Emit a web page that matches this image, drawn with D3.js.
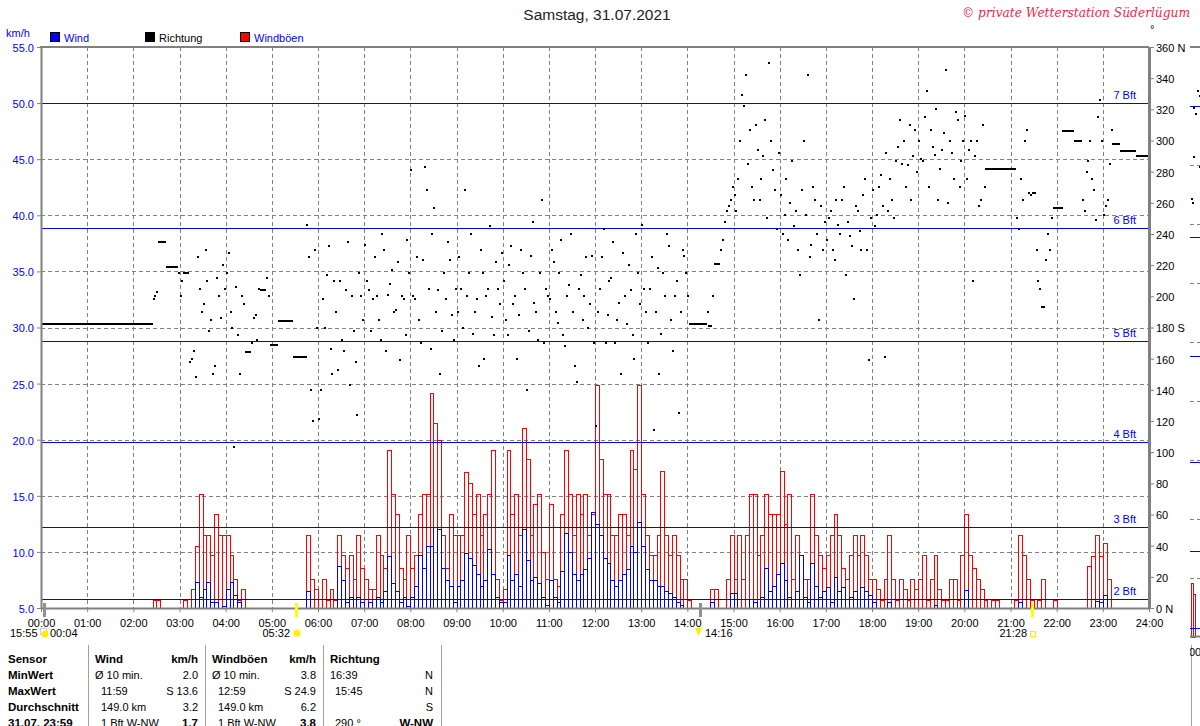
<!DOCTYPE html>
<html>
<head>
<meta charset="utf-8">
<title>Wind 31.07.2021</title>
<script src="https://cdn.jsdelivr.net/npm/d3@7"></script>
<style>
  body { margin: 0; background: #fff; }
  svg text { font-family: "Liberation Sans", Arial, sans-serif; }
</style>
</head>
<body>
<svg id="chart" width="1200" height="726"></svg>
<script>
// 5-minute samples, one row = one hour (12 values), km/h
const gust = [
  0,0,0,0,0,0,0,0,0,0,0,0,                                  // 00
  0,0,0,0,0,0,0,0,0,0,0,0,                                  // 01
  0,0,0,0,0,5.7,5.7,0,0,0,0,0,                              // 02
  0,5.7,0,6.7,10.5,15.2,11.5,11.5,9.7,13.4,11.5,11.5,       // 03
  11.5,9.7,7.6,5.7,6.7,0,0,0,0,0,0,0,                       // 04
  0,0,0,0,0,0,0,0,0,11.5,7.6,6.7,                           // 05
  0,7.6,5.7,6.7,5.7,11.5,9.7,8.6,9.7,7.6,11.5,8.6,          // 06
  7.6,6.7,6.7,11.5,9.7,8.6,19.1,15.2,13.4,8.6,7.6,11.5,     // 07
  8.6,9.7,13.4,15.2,15.2,24.2,21.5,20.0,11.5,8.6,13.4,11.5, // 08
  11.5,11.5,17.1,16.1,13.4,15.2,11.5,13.4,15.2,19.1,7.6,5.7,// 09
  6.7,19.1,13.4,15.2,11.5,21.0,18.3,11.5,14.3,15.2,10.0,7.6,// 10
  14.3,7.6,7.0,13.4,19.1,15.2,11.5,15.2,13.4,15.2,11.5,13.4,// 11
  24.9,18.3,15.2,15.2,11.5,11.5,13.4,13.4,11.5,19.1,17.4,24.9,// 12
  15.2,11.5,9.7,9.7,11.5,17.2,11.5,9.7,11.5,9.7,7.6,7.6,    // 13
  5.7,0,0,0,0,0,6.7,6.7,0,0,7.6,11.5,                       // 14
  7.6,11.5,7.6,11.5,15.2,15.2,9.7,11.5,15.2,13.4,13.4,13.4, // 15
  17.2,12.5,15.2,7.6,11.5,9.7,7.6,7.6,15.2,11.5,9.7,8.6,    // 16
  9.7,11.5,13.4,11.5,8.6,7.6,9.7,11.5,9.7,11.5,9.7,7.6,     // 17
  7.6,6.7,5.7,7.6,11.5,7.6,5.7,7.6,6.7,5.7,7.6,6.7,         // 18
  7.6,9.7,5.7,7.6,9.7,6.7,5.7,5.7,7.6,7.6,5.7,9.7,          // 19
  13.4,9.7,8.6,7.6,6.7,5.7,0,5.7,5.7,0,0,0,                 // 20
  0,5.7,11.5,9.7,7.6,5.7,0,5.7,7.6,0,0,5.7,                 // 21
  0,0,0,0,0,0,0,0,8.7,9.6,11.5,9.6,                         // 22
  10.8,7.6,0,0,0,0,0,0,0,0,0,0                              // 23
];

const wind = [
  0,0,0,0,0,0,0,0,0,0,0,0,
  0,0,0,0,0,0,0,0,0,0,0,0,
  0,0,0,0,0,0,0,0,0,0,0,0,
  0,0,0,0,7.3,6.0,6.7,7.3,5.5,5.5,0,5.2,
  6.7,7.3,6.2,5.5,0,0,0,0,0,0,0,0,
  0,0,0,0,0,0,0,0,0,6.5,0,0,
  0,0,0,0,0,8.7,7.5,5.5,6.0,0,6.0,5.5,
  0,5.5,0,6.0,5.5,6.5,9.6,7.2,6.5,5.5,6.0,5.2,
  6.0,7.0,9.7,8.6,10.5,10.5,12.2,12.0,8.6,7.5,7.0,5.5,
  7.0,7.5,9.9,9.5,8.8,8.0,7.0,7.5,10.3,8.0,6.0,5.5,
  5.5,9.7,7.5,8.0,7.0,12.0,9.3,7.5,7.8,7.2,6.0,5.3,
  7.5,6.0,5.5,8.3,11.7,10.0,8.0,7.5,8.0,8.5,9.5,13.6,
  12.5,11.5,9.5,9.0,7.5,7.0,7.5,8.0,8.5,10.5,10.0,12.7,
  10.5,8.5,7.5,7.5,7.0,7.0,6.5,6.3,6.0,5.5,5.3,5.0,
  0,0,0,0,0,0,5.5,0,0,0,0,6.3,
  6.3,0,0,0,5.8,5.5,0,6.0,8.6,6.5,7.0,8.0,
  9.0,7.5,6.0,0,6.5,9.7,6.0,5.5,9.0,7.0,6.0,6.5,
  6.9,5.5,7.8,6.5,6.9,0,6.0,6.5,0,6.9,6.5,6.2,
  5.5,0,0,0,5.5,0,0,0,0,0,0,0,
  0,0,0,0,5.3,0,0,0,0,0,0,0,
  6.6,0,0,0,0,0,0,0,0,0,0,0,
  0,0,5.5,0,0,0,0,0,0,0,0,0,
  0,0,0,0,0,0,0,0,0,0,5.6,5.5,
  6.2,0,0,0,0,0,0,0,0,0,0,0
];

// wind direction in degrees: dirA at hh:m0 / hh:m5, dirB 2.5 minutes later
const dirA = [
  182,182,182,182,182,182,182,182,182,182,182,182,
  182,182,182,182,182,182,182,182,182,182,182,182,
  182,182,182,182,182,198,203,235,235,219,219,219,
  200,215,215,160,148,205,195,210,185,155,200,220,
  215,190,103,175,200,164,164,186,172,204,204,200,
  169,169,184,184,184,184,161,161,161,246,140,230,
  121,198,214,166,210,153,172,204,143,178,124,200,
  233,204,198,200,172,230,201,217,191,159,198,236,
  281,198,185,223,268,166,257,204,178,198,223,172,
  190,205,268,215,176,198,230,160,205,187,222,195,
  210,175,232,200,188,215,140,226,196,172,262,205,
  198,222,183,236,168,207,190,145,214,200,180,226,
  117,205,243,188,212,170,196,228,182,204,160,215,
  246,190,205,114,218,176,200,232,165,210,190,226,
  200,182,182,182,182,190,181,221,221,236,255,262,
  265,275,329,342,307,262,294,275,313,350,281,243,
  265,252,236,287,255,214,300,342,233,262,185,230,
  236,255,223,246,262,214,239,198,255,230,275,159,
  268,252,278,161,255,262,287,313,300,284,262,307,
  300,287,332,307,291,262,294,345,300,275,313,287,
  316,294,210,300,262,270,282,282,282,282,282,282,
  282,282,243,262,307,265,266,210,193,223,230,257,
  257,257,306,306,306,300,300,255,287,275,249,326,
  252,262,307,298,298,293,293,293,293,290,290,290
];
const dirB = [
  182,182,182,182,182,182,182,182,182,182,182,182,
  182,182,182,182,182,182,182,182,182,182,182,182,
  182,182,182,182,182,200,235,235,219,219,219,215,
  210,215,158,165,225,190,230,178,150,212,186,205,
  228,180,206,150,195,164,170,188,205,204,212,169,
  169,184,184,184,184,161,161,161,161,225,120,180,
  140,180,232,150,190,210,165,235,200,158,215,185,
  210,178,225,185,240,165,208,190,222,200,175,215,
  200,225,170,283,205,240,190,150,215,235,188,205,
  225,180,200,240,190,155,215,200,245,175,205,228,
  185,220,195,160,230,205,178,248,190,215,170,200,
  230,190,215,175,200,240,155,205,185,225,195,170,
  190,225,170,210,235,185,150,200,220,175,240,195,
  205,170,225,190,150,215,240,185,200,125,230,215,
  182,182,182,182,182,181,200,221,230,248,258,270,
  255,300,322,285,270,310,262,290,250,300,268,292,
  240,275,260,245,230,268,252,225,270,240,258,248,
  250,230,262,240,270,248,232,258,242,265,230,250,
  245,270,258,292,275,250,296,285,270,310,290,280,
  288,315,270,296,320,282,305,260,292,318,270,300,
  275,300,290,258,310,282,282,282,282,282,282,282,
  282,250,275,300,266,266,230,205,193,240,250,257,
  257,306,306,306,300,300,262,280,300,268,315,300,
  258,285,298,298,293,293,293,293,290,290,290,290
];

const hourLabels = ["00:00","01:00","02:00","03:00","04:00","05:00","06:00","07:00","08:00",
  "09:00","10:00","11:00","12:00","13:00","14:00","15:00","16:00","17:00","18:00","19:00",
  "20:00","21:00","22:00","23:00","24:00"];
const speedTicks = [5,10,15,20,25,30,35,40,45,50,55];
const dirTicks = [0,20,40,60,80,100,120,140,160,180,200,220,240,260,280,300,320,340,360];
const bftValues = [5.76, 12.24, 19.8, 28.8, 38.9, 50.0];
const bftLabels = ["2 Bft","3 Bft","4 Bft","5 Bft","6 Bft","7 Bft"];

// sun / moon times (minutes) marked on the time axis
const astroTimes = [4, 332, 856, 1288];
const astroColors = ["#909090", "#ffff00", "#909090", "#ffff00"];

// start of the following day, visible at the right edge
const nextGust = [9.5, 8.6];
const nextDirMin = [0, 1, 2, 3, 5, 8, 10, 10];
const nextDir = [267, 265, 323, 293, 319, 333, 330, 287];

// statistics table
const rowHeads = ["Sensor","MinWert","MaxWert","Durchschnitt","31.07.  23:59"];
const windCol = [["Wind","km/h"],["Ø 10 min.","2.0"],["11:59","S 13.6"],["149.0 km","3.2"],["1 Bft W-NW","1.7"]];
const gustCol = [["Windböen","km/h"],["Ø 10 min.","3.8"],["12:59","S 24.9"],["149.0 km","6.2"],["1 Bft W-NW","3.8"]];
const dirCol = [["Richtung",""],["16:39","N"],["15:45","N"],["","S"],["290 °","W-NW"]];

const svg = d3.select("#chart");
const GRAY = "#808080", BLUE = "#0000ff", RED = "#ff0000";
const px = v => Math.round(v) + 0.5;   // snap 1px strokes onto the pixel grid

const x = d3.scaleLinear().domain([0, 1440]).range([41, 1149]);
const y = d3.scaleLinear().domain([5, 55]).range([608, 47]);
const yDir = d3.scaleLinear().domain([0, 360]).range([608, 47]);

// dashed grid
svg.append("g").selectAll("line")
  .data(d3.range(1, 24))
  .join("line")
  .attr("x1", d => px(x(d * 60))).attr("x2", d => px(x(d * 60)))
  .attr("y1", y(55)).attr("y2", y(5))
  .attr("stroke", GRAY).attr("stroke-dasharray", "4,3");
svg.append("g").selectAll("line")
  .data(speedTicks.slice(1, -1))
  .join("line")
  .attr("x1", x(0)).attr("x2", x(1440))
  .attr("y1", d => px(y(d))).attr("y2", d => px(y(d)))
  .attr("stroke", GRAY).attr("stroke-dasharray", "4,3");

// bars: gusts then wind
function drawBars(values, color) {
  svg.append("g").selectAll("rect")
    .data(values.map((v, i) => ({ t: i * 5, v })).filter(d => d.v > 5))
    .join("rect")
    .attr("x", d => px(x(d.t)))
    .attr("y", d => px(y(d.v)))
    .attr("width", d => Math.round(x(d.t + 5)) - Math.round(x(d.t)))
    .attr("height", d => Math.round(y(5)) - Math.round(y(d.v)))
    .attr("fill", "none")
    .attr("stroke", color)
    .attr("stroke-width", 1);
}
drawBars(gust, RED);
drawBars(wind, BLUE);

// Beaufort lines
const bft = svg.append("g");
bft.selectAll("line")
  .data(bftValues)
  .join("line")
  .attr("x1", x(0)).attr("x2", x(1440))
  .attr("y1", d => px(y(d))).attr("y2", d => px(y(d)))
  .attr("stroke", BLUE).attr("stroke-width", 1);
bft.selectAll("text")
  .data(bftValues)
  .join("text")
  .attr("x", 1136)
  .attr("y", d => Math.round(y(d)) - 4)
  .attr("text-anchor", "end")
  .attr("font-size", 11)
  .attr("fill", BLUE)
  .text((d, i) => bftLabels[i]);

// direction: interleave both readings, runs of equal values become dashes
const dirSeries = [];
dirA.forEach((d, i) => { dirSeries.push({ t: i * 5, d }); dirSeries.push({ t: i * 5 + 2.5, d: dirB[i] }); });
const runs = [];
dirSeries.forEach((s, i) => {
  const last = runs[runs.length - 1];
  if (last && last.d === s.d && last.endIdx === i - 1) { last.end = s.t; last.endIdx = i; }
  else runs.push({ d: s.d, start: s.t, end: s.t, endIdx: i });
});
svg.append("g").selectAll("rect")
  .data(runs)
  .join("rect")
  .attr("x", d => Math.round(x(d.start)))
  .attr("y", d => Math.round(yDir(d.d)) - 1)
  .attr("width", d => Math.round(x(d.end)) - Math.round(x(d.start)) + 2)
  .attr("height", 2)
  .attr("fill", "#000");

// axes
const gx = svg.append("g")
  .attr("transform", `translate(0,${y(5)})`)
  .call(d3.axisBottom(x).tickValues(d3.range(0, 1441, 60))
    .tickFormat((d, i) => hourLabels[i]).tickSize(4).tickSizeOuter(0).tickPadding(7));
gx.select(".domain").attr("stroke", GRAY).attr("stroke-width", 2);
gx.selectAll(".tick line").attr("stroke", GRAY);
gx.selectAll("text").attr("font-size", 11).attr("fill", "#000");

const gy = svg.append("g")
  .attr("transform", `translate(41,0)`)
  .call(d3.axisLeft(y).tickValues(speedTicks).tickFormat(d3.format(".1f"))
    .tickSize(4).tickSizeOuter(0).tickPadding(3));
gy.select(".domain").attr("stroke", GRAY).attr("stroke-width", 2);
gy.selectAll(".tick line").attr("stroke", GRAY);
gy.selectAll("text").attr("font-size", 11).attr("fill", BLUE).attr("dy", "0.4em");

const gr = svg.append("g")
  .attr("transform", `translate(1149,0)`)
  .call(d3.axisRight(yDir).tickValues(dirTicks)
    .tickFormat(d => d === 0 || d === 360 ? d + " N" : d === 180 ? "180 S" : d)
    .tickSize(5).tickSizeOuter(0).tickPadding(2));
gr.select(".domain").attr("stroke", GRAY).attr("stroke-width", 3);
gr.selectAll(".tick line").attr("stroke", GRAY);
gr.selectAll("text").attr("font-size", 11).attr("fill", "#000").attr("dy", "0.4em");

svg.append("line")
  .attr("x1", x(0) - 1).attr("x2", x(1440))
  .attr("y1", y(55)).attr("y2", y(55))
  .attr("stroke", GRAY).attr("stroke-width", 2);

// title, copyright, legend
svg.append("text").attr("x", 597).attr("y", 20).attr("text-anchor", "middle")
  .attr("font-size", 15.5).attr("fill", "#222").text("Samstag, 31.07.2021");
svg.append("text").attr("x", 962).attr("y", 17)
  .attr("font-size", 13).attr("font-style", "italic").attr("fill", "#f0284a")
  .attr("textLength", 228).attr("lengthAdjust", "spacingAndGlyphs")
  .style("font-family", "'DejaVu Serif', serif")
  .text("© private Wetterstation Süderlügum");
svg.append("text").attr("x", 1150).attr("y", 33).attr("font-size", 11).text("°");
svg.append("text").attr("x", 6).attr("y", 37).attr("font-size", 11).attr("fill", BLUE).text("km/h");

const legendItems = [
  { x: 50, color: BLUE, label: "Wind", text: BLUE },
  { x: 145, color: "#000", label: "Richtung", text: "#000" },
  { x: 240, color: RED, label: "Windböen", text: BLUE }
];
const lg = svg.append("g").selectAll("g").data(legendItems).join("g");
lg.append("rect").attr("x", d => d.x + 0.5).attr("y", 32.5).attr("width", 9).attr("height", 9)
  .attr("fill", d => d.color).attr("stroke", "#000");
lg.append("text").attr("x", d => d.x + 14).attr("y", 42).attr("font-size", 11)
  .attr("fill", d => d.text).text(d => d.label);

// sun / moon markers on the time axis
svg.append("g").selectAll("rect")
  .data(astroTimes)
  .join("rect")
  .attr("x", d => Math.round(x(d)) - 1).attr("y", 603).attr("width", 3).attr("height", 14)
  .attr("fill", (d, i) => astroColors[i]);

const astro = svg.append("g").attr("font-size", 11);
astro.append("text").attr("x", 10).attr("y", 637).text("15:55");
astro.append("rect").attr("x", 40.5).attr("y", 628.5).attr("width", 6).attr("height", 6)
  .attr("fill", "none").attr("stroke", "#8899dd").attr("stroke-dasharray", "1,1");
astro.append("circle").attr("cx", 45).attr("cy", 634).attr("r", 3.5).attr("fill", "#ffee00");
astro.append("text").attr("x", 50).attr("y", 637).text("00:04");
astro.append("text").attr("x", 290).attr("y", 637).attr("text-anchor", "end").text("05:32");
astro.append("circle").attr("cx", 297).attr("cy", 633).attr("r", 4.5).attr("fill", "#fff8a0");
astro.append("circle").attr("cx", 297).attr("cy", 633).attr("r", 3).attr("fill", "#ffee00");
astro.append("path").attr("d", "M695,628 L702,628 L698.5,636 Z").attr("fill", "#ffee00");
astro.append("text").attr("x", 705).attr("y", 637).text("14:16");
astro.append("text").attr("x", 1027).attr("y", 637).attr("text-anchor", "end").text("21:28");
astro.append("rect").attr("x", 1030.5).attr("y", 631.5).attr("width", 5).attr("height", 5)
  .attr("fill", "none").attr("stroke", "#ffee00");

// statistics table
const tbl = svg.append("g");
const rowY = [663, 679, 695, 711, 727];
[88, 205, 323, 441, 1191].forEach(sx => {
  tbl.append("line").attr("x1", sx + 0.5).attr("x2", sx + 0.5).attr("y1", 645).attr("y2", 726)
    .attr("stroke", "#a0a0a0");
});
rowHeads.forEach((t, i) => {
  tbl.append("text").attr("x", 8).attr("y", rowY[i]).attr("font-size", 11.5)
    .attr("font-weight", "bold").text(t);
});
function column(cells, left, indent, right) {
  cells.forEach((c, i) => {
    const head = i === 0, last = i === cells.length - 1;
    tbl.append("text").attr("x", head || i === 1 ? left : left + indent).attr("y", rowY[i])
      .attr("font-size", head ? 11.5 : 11).attr("font-weight", head ? "bold" : null).text(c[0]);
    tbl.append("text").attr("x", right).attr("y", rowY[i]).attr("text-anchor", "end")
      .attr("font-size", head || last ? 11.5 : 11).attr("font-weight", head || last ? "bold" : null)
      .text(c[1]);
  });
}
column(windCol, 95, 6, 198);
column(gustCol, 212, 6, 316);
column(dirCol, 330, 5, 433);

// following day (clipped sliver at the right edge)
const nx = d3.scaleLinear().domain([0, 1440]).range([1191, 2299]);
const ny = d3.scaleLinear().domain([5, 55]).range([636.5, 47]);
const nyDir = d3.scaleLinear().domain([0, 360]).range([636.5, 47]);
svg.append("clipPath").attr("id", "nextClip")
  .append("rect").attr("x", 1190).attr("y", 0).attr("width", 20).attr("height", 726);
const nxt = svg.append("g").attr("clip-path", "url(#nextClip)");
nxt.append("g").selectAll("line")
  .data(speedTicks.slice(1, -1))
  .join("line")
  .attr("x1", 1190).attr("x2", 1200)
  .attr("y1", d => px(ny(d))).attr("y2", d => px(ny(d)))
  .attr("stroke", GRAY).attr("stroke-dasharray", "4,3");
nxt.append("g").selectAll("rect")
  .data(nextGust)
  .join("rect")
  .attr("x", (d, i) => px(nx(i * 2.5))).attr("y", d => px(ny(d)))
  .attr("width", 2).attr("height", d => Math.round(ny(5)) - Math.round(ny(d)))
  .attr("fill", "none").attr("stroke", RED);
nxt.append("g").selectAll("line")
  .data(bftValues)
  .join("line")
  .attr("x1", 1190).attr("x2", 1200)
  .attr("y1", d => px(ny(d))).attr("y2", d => px(ny(d)))
  .attr("stroke", BLUE);
nxt.append("g").selectAll("rect")
  .data(nextDir)
  .join("rect")
  .attr("x", (d, i) => Math.round(nx(nextDirMin[i]))).attr("y", d => Math.round(nyDir(d)) - 1)
  .attr("width", 2).attr("height", 2).attr("fill", "#000");
nxt.append("line").attr("x1", 1190).attr("x2", 1200).attr("y1", 47).attr("y2", 47)
  .attr("stroke", GRAY).attr("stroke-width", 2);
nxt.append("line").attr("x1", 1190).attr("x2", 1200).attr("y1", ny(5)).attr("y2", ny(5))
  .attr("stroke", GRAY).attr("stroke-width", 2);
nxt.append("text").attr("x", 1189).attr("y", 656).attr("font-size", 11).text("00:00");
</script>
</body>
</html>
